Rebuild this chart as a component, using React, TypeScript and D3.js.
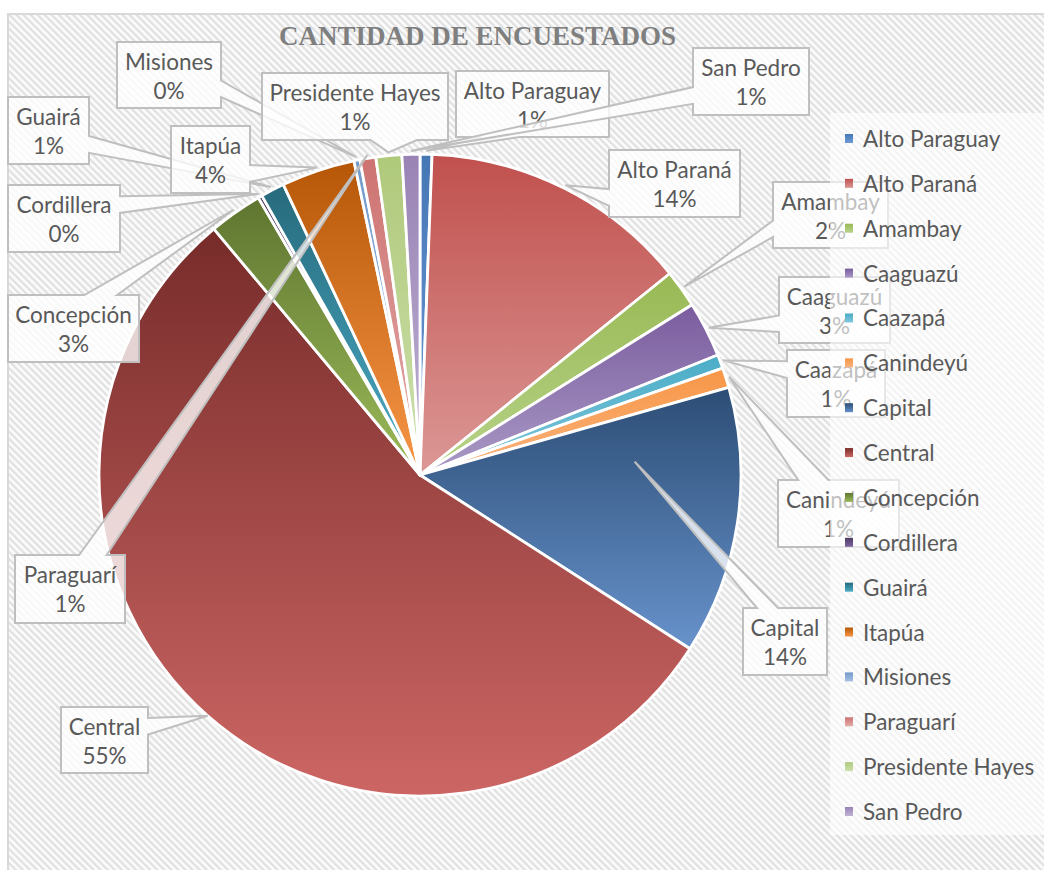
import * as d3 from "d3";

// --- data ---
const departamentos = [
  "Alto Paraguay",
  "Alto Paraná",
  "Amambay",
  "Caaguazú",
  "Caazapá",
  "Canindeyú",
  "Capital",
  "Central",
  "Concepción",
  "Cordillera",
  "Guairá",
  "Itapúa",
  "Misiones",
  "Paraguarí",
  "Presidente Hayes",
  "San Pedro",
];
const encuestados = [6, 136, 19, 28, 7, 10, 135, 548, 27, 2, 12, 37, 3, 8, 13, 9];
const titulo = "CANTIDAD DE ENCUESTADOS";

// gradient colours per slice (top -> bottom)
const colorTop = [
  "#4677b5", "#c0504d", "#98b954", "#7a5c9e", "#4bacc6", "#f79646", "#2c4d75", "#772c2a",
  "#5f7530", "#4d3b62", "#276a7c", "#b65708", "#729aca", "#cd7371", "#afc97a", "#9983b5",
];
const colorBottom = [
  "#6d9bd6", "#dc9896", "#b8d38a", "#aa9ac6", "#80c8dc", "#fab47f", "#6792cb", "#cc6664",
  "#9bbb59", "#8064a2", "#4bacc6", "#f79646", "#a6c0e2", "#e3acab", "#cde0ae", "#bfb2d4",
];

// callout boxes: x, y, w, h
const labelBoxes: [number, number, number, number][] = [
  [456, 71, 153, 66],
  [609, 150, 131, 67],
  [773, 182, 115, 66],
  [779, 277, 111, 66],
  [787, 350, 98, 67],
  [778, 480, 121, 67],
  [743, 608, 84, 67],
  [61, 707, 87, 66],
  [8, 295, 131, 67],
  [8, 185, 112, 67],
  [8, 97, 81, 67],
  [171, 126, 79, 67],
  [117, 42, 104, 66],
  [15, 555, 110, 68],
  [262, 73, 186, 67],
  [693, 48, 116, 67],
];
// callout tip: radius factor and angle shift (deg) from the slice middle
const tipFactor = [1.01, 1.01, 1.01, 1.01, 1.01, 1.01, 0.67, 1.0, 1.01, 1.01, 1.01, 1.01, 1.01, 1.01, 1.01, 1.01];
const tipShift = [0, 0, 0, 0, 0, 0, -12, 0, 0, 0, 0, 0, 0, 0, 0, 0];

const W = 1044, H = 870;
const cx = 420, cy = 475, R = 321;
const FONT = "Lato, 'Open Sans', sans-serif";
const TEXT = "#595959";

function calloutPath(x: number, y: number, w: number, h: number, tx: number, ty: number) {
  const hc = x + w / 2, vc = y + h / 2;
  const dxPos = tx - hc, dyPos = ty - vc;
  const dx = (dxPos * h) / w;
  const r = x + w, b = y + h;
  const x1 = x + (w * (dxPos > 0 ? 7 : 2)) / 12;
  const x2 = x + (w * (dxPos > 0 ? 10 : 5)) / 12;
  const y1 = y + (h * (dyPos > 0 ? 7 : 2)) / 12;
  const y2 = y + (h * (dyPos > 0 ? 10 : 5)) / 12;
  const inside = tx >= x && tx <= r && ty >= y && ty <= b;
  let side = "";
  if (!inside) side = Math.abs(dyPos) > Math.abs(dx) ? (dyPos < 0 ? "t" : "b") : dxPos < 0 ? "l" : "r";
  let p = `M${x},${y}`;
  if (side === "t") p += `L${x1},${y}L${tx},${ty}L${x2},${y}`;
  p += `L${r},${y}`;
  if (side === "r") p += `L${r},${y1}L${tx},${ty}L${r},${y2}`;
  p += `L${r},${b}`;
  if (side === "b") p += `L${x2},${b}L${tx},${ty}L${x1},${b}`;
  p += `L${x},${b}`;
  if (side === "l") p += `L${x},${y2}L${tx},${ty}L${x},${y1}`;
  return p + "Z";
}

export default function App() {
  const total = d3.sum(encuestados);
  const pie = d3.pie<number>().sort(null).value((d) => d).startAngle(0).endAngle(2 * Math.PI);
  const arcs = pie(encuestados);
  const arc = d3.arc<d3.PieArcDatum<number>>().innerRadius(0).outerRadius(R);
  const pct = (v: number) => `${Math.round((v / total) * 100)}%`;

  const legendY = d3.scaleLinear().domain([0, departamentos.length - 1]).range([147, 820]);

  return (
    <svg width={W} height={H} style={{ position: "absolute", left: 0, top: 0, background: "#fff" }}>
      <defs>
        <pattern id="diag" width="5" height="10" patternUnits="userSpaceOnUse" patternTransform="rotate(-45)">
          <rect width="5" height="10" fill="#fbfbfb" />
          <rect width="2.2" height="10" fill="#e0e0e0" />
        </pattern>
        {departamentos.map((_, i) => (
          <linearGradient key={i} id={`g${i}`} x1="0" y1="0" x2="0" y2="1">
            <stop offset="0" stopColor={colorTop[i]} />
            <stop offset="1" stopColor={colorBottom[i]} />
          </linearGradient>
        ))}
      </defs>

      <rect x={8} y={14} width={W} height={H} fill="url(#diag)" stroke="#d9d9d9" strokeWidth={2} />

      <text
        x={477.5}
        y={45}
        textAnchor="middle"
        fontFamily="'Liberation Serif', 'DejaVu Serif', serif"
        fontWeight="bold"
        fontSize={27}
        fill="#7f7f7f"
      >
        {titulo}
      </text>

      <g transform={`translate(${cx},${cy})`}>
        {arcs.map((a, i) => (
          <path key={i} d={arc(a) || ""} fill={`url(#g${i})`} stroke="#fff" strokeWidth={2.8} strokeLinejoin="round" />
        ))}
      </g>

      <g fontFamily={FONT} fontSize={22.5} fill={TEXT}>
        {arcs.map((a, i) => {
          const [x, y, w, h] = labelBoxes[i];
          const mid = (a.startAngle + a.endAngle) / 2 + (tipShift[i] * Math.PI) / 180;
          const rr = R * tipFactor[i];
          const tx = cx + rr * Math.sin(mid);
          const ty = cy - rr * Math.cos(mid);
          return (
            <g key={i}>
              <path
                d={calloutPath(x, y, w, h, tx, ty)}
                fill="#fff"
                fillOpacity={0.78}
                stroke="#bfbfbf"
                strokeWidth={2}
                strokeLinejoin="miter"
              />
              <text x={x + w / 2} y={y + 28} textAnchor="middle">
                {departamentos[i]}
              </text>
              <text x={x + w / 2} y={y + 57} textAnchor="middle">
                {pct(a.data)}
              </text>
            </g>
          );
        })}
      </g>

      <rect x={830} y={113} width={W - 830} height={722} fill="#fff" fillOpacity={0.62} />
      <g fontFamily={FONT} fontSize={22.5} fill={TEXT}>
        {departamentos.map((d, i) => (
          <g key={d}>
            <rect x={845} y={legendY(i) - 13} width={8} height={9} fill={`url(#g${i})`} />
            <text x={863} y={legendY(i)}>
              {d}
            </text>
          </g>
        ))}
      </g>
    </svg>
  );
}
